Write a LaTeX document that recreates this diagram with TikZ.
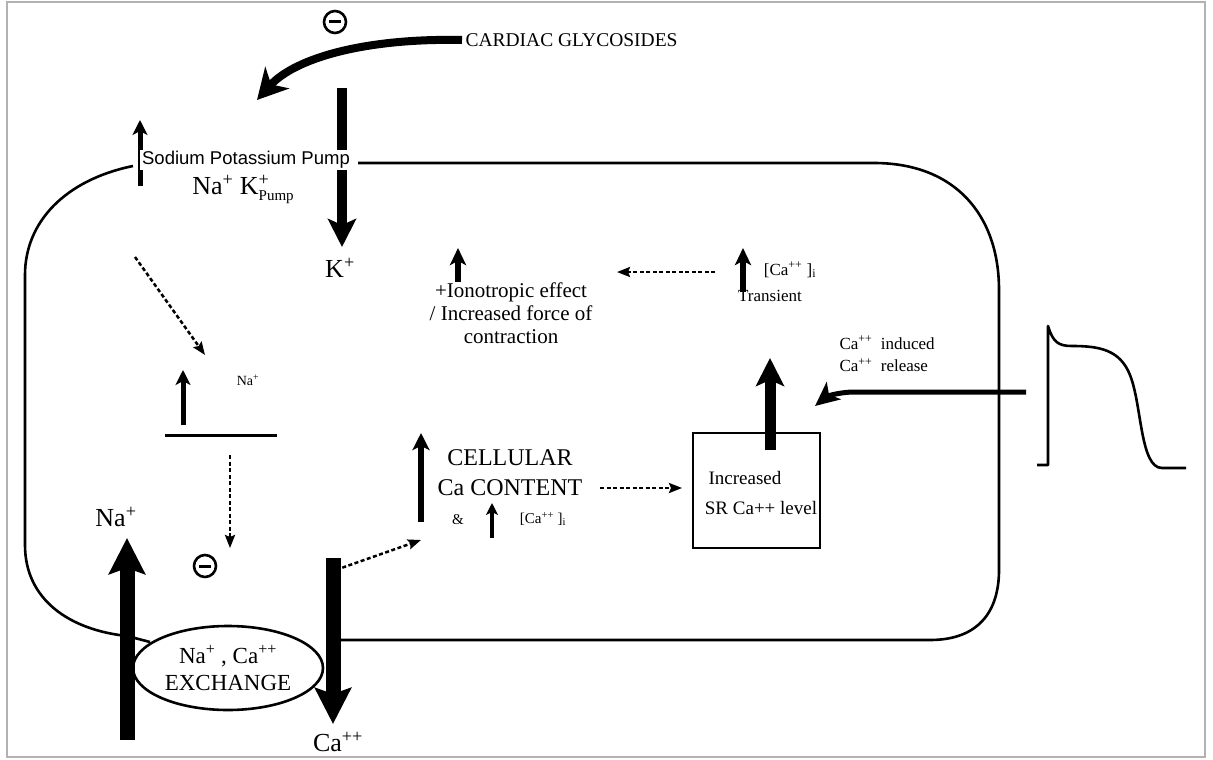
\documentclass[tikz,border=0pt]{standalone}
\usepackage{fontspec}
\setmainfont{Liberation Serif}
\newfontfamily\sansf{Liberation Sans}
\usetikzlibrary{arrows.meta,shapes.geometric}
\begin{document}
\begin{tikzpicture}[x=1pt,y=-1pt,
  fs/.style={font=\fontsize{#1}{\fpeval{#1*1.2}}\selectfont},
  memb/.style={line width=2.6pt},
  bigarrow/.style 2 args={line width=#1, -{Stealth[length=#2,width=#2,inset=6pt]}},
  smallarrow/.style={line width=5pt, -{Stealth[length=15pt,width=15pt,inset=4pt]}},
  dasharrow/.style={line width=2.5pt, dash pattern=on 4pt off 2.5pt, -{Stealth[length=13pt,width=10pt,inset=2pt]}},
  minuscirc/.style={draw, circle, line width=2.6pt, minimum size=22pt, inner sep=0pt},
  wbox/.style={fill=white, inner xsep=2pt, inner ysep=1pt}]
\useasboundingbox (0,0) rectangle (1213,760);
\draw[gray!60, line width=2pt] (7,2) rectangle (1205,757);

% membrane
\draw[memb] (358,163) -- (874,163) .. controls (955,163) and (999,215) .. (999,290) -- (999,570) .. controls (999,612) and (978,640) .. (930,640) -- (340,640);
\draw[memb] (133,166) .. controls (65,180) and (25,222) .. (25,275) -- (25,545) .. controls (25,600) and (70,630) .. (127,636) -- (150,642);

% top: cardiac glycosides
\node[fs=19.5, anchor=west] (cg) at (462,40) {CARDIAC GLYCOSIDES};
\node[minuscirc] (m1) at (335,22) {};
\draw[line width=3pt] ([xshift=-6pt]m1.center) -- ([xshift=6pt]m1.center);
\coordinate (cgend) at (257,100);
\draw[line width=8pt, -{Stealth[length=30pt,width=32pt,inset=9pt]}] (cg.west) .. controls (365,38) and (295,58) .. (cgend);

% pump
\coordinate (kbar) at (342,88);
\node[fs=26] (kplus) at (340,268) {K\textsuperscript{+}};
\coordinate (ktip) at (342,247);
\draw[bigarrow={10pt}{28pt}] (kbar) -- (ktip);
\coordinate (pumpup0) at (140,186);
\coordinate (pumpup1) at (140,120);
\draw[smallarrow] (pumpup0) -- (pumpup1);
\node[wbox, font=\sansf\fontsize{18.5}{20}\selectfont] (pump) at (246,160) {Sodium Potassium Pump};
\node[fs=26] (nak) at (243,189) {Na\textsuperscript{+} K\rlap{\textsuperscript{+}}\raisebox{-6pt}{\fontsize{15}{15}\selectfont Pump}};

% sodium accumulation
\coordinate (d1a) at (135,257);
\coordinate (d1b) at (205,355);
\draw[dasharrow] (d1a) -- (d1b);
\coordinate (naup0) at (183,425);
\coordinate (naup1) at (183,370);
\draw[smallarrow] (naup0) -- (naup1);
\node[fs=14] (nasmall) at (248,380) {Na\textsuperscript{+}};
\coordinate (hl0) at (165,435);
\coordinate (hl1) at (277,435);
\draw[line width=3pt] (hl0) -- (hl1);
\coordinate (d2a) at (230,455);
\coordinate (d2b) at (230,548);
\draw[dasharrow] (d2a) -- (d2b);
\node[minuscirc] (m2) at (205,566) {};
\draw[line width=3pt] ([xshift=-6pt]m2.center) -- ([xshift=6pt]m2.center);

% exchanger
\node[ellipse, draw, line width=2.6pt, minimum width=190pt, minimum height=84pt, inner sep=0pt, fill=white, align=center, fs=23] (ex) at (228,668) {Na\textsuperscript{+} , Ca\textsuperscript{++}\\[-1pt]EXCHANGE};
\node[fs=26] (nalab) at (116,517) {Na\textsuperscript{+}};
\coordinate (nabot) at (127,740);
\coordinate (natip) at (127,538);
\draw[bigarrow={15pt}{36pt}] (nabot) -- (natip);
\node[fs=26] (calab) at (338,742) {Ca\textsuperscript{++}};
\coordinate (catop) at (333,558);
\coordinate (cabot) at (333,724);
\draw[bigarrow={15pt}{36pt}] (catop) -- (cabot);

% cellular Ca content
\coordinate (d3a) at (330,572);
\coordinate (d3b) at (421,540);
\draw[dasharrow] (d3a) -- (d3b);
\node[fs=24, align=center] (cell) at (510,473) {CELLULAR\\[1pt]Ca CONTENT};
\draw[line width=6pt, -{Stealth[length=17pt,width=17pt,inset=4pt]}] (421,522) -- (421,433);
\node[fs=15] (amp) at (458,520) {\&};
\draw[line width=4pt, -{Stealth[length=12pt,width=12pt,inset=3pt]}] (492,538) -- (492,503);
\node[fs=15] (cai1) at (543,519) {[Ca\textsuperscript{++} ]\textsubscript{i}};

% SR box
\node[draw, line width=2.6pt, minimum width=127pt, minimum height=115pt] (sr) at (756.5,490.5) {};
\node[fs=19] (incr) at (745,478) {Increased};
\node[wbox, fs=19] (srl) at (761,508) {SR Ca++ level};
\coordinate (d5a) at (600,488);
\coordinate (d5b) at (682,488);
\draw[dasharrow] (d5a) -- (d5b);

% transient
\node[fs=17] (trans) at (770,296) {Transient};
\coordinate (sr0) at (770,450);
\coordinate (sr1) at (770,358);
\draw[bigarrow={11pt}{28pt}] (sr0) -- (sr1);
\node[fs=17] (cai2) at (790,270) {[Ca\textsuperscript{++} ]\textsubscript{i}};
\draw[line width=6pt, -{Stealth[length=17pt,width=16pt,inset=4pt]}] (743,292) -- (743,248);
\coordinate (d4a) at (715,272);
\coordinate (d4b) at (617,272);
\draw[dasharrow] (d4a) -- (d4b);

% inotropic
\draw[line width=6pt, -{Stealth[length=17pt,width=16pt,inset=4pt]}] (458,282) -- (458,248);
\node[fs=21, align=center] (ino) at (511,313) {+Ionotropic effect\\[-2pt]/ Increased force of\\[-2pt]contraction};

% CICR
\node[fs=17, align=left, anchor=west] (cicr) at (836,354) {Ca\textsuperscript{++}\ \ induced\\[2pt]Ca\textsuperscript{++}\ \ release};
\coordinate (apin) at (1026,392);
\coordinate (aptip) at (815,406);
\draw[line width=5pt, -{Stealth[length=24pt,width=22pt,inset=6pt]}] (apin) -- (855,392) .. controls (838,392) and (826,397) .. (aptip);

% action potential
\draw[line width=2.6pt, line join=round] (1037,465) -- (1048,465) -- (1048,326) .. controls (1053,342) and (1058,346) .. (1072,346) .. controls (1100,346) and (1120,350) .. (1130,375) .. controls (1142,405) and (1140,468) .. (1162,468) -- (1186,468);
\end{tikzpicture}
\end{document}
